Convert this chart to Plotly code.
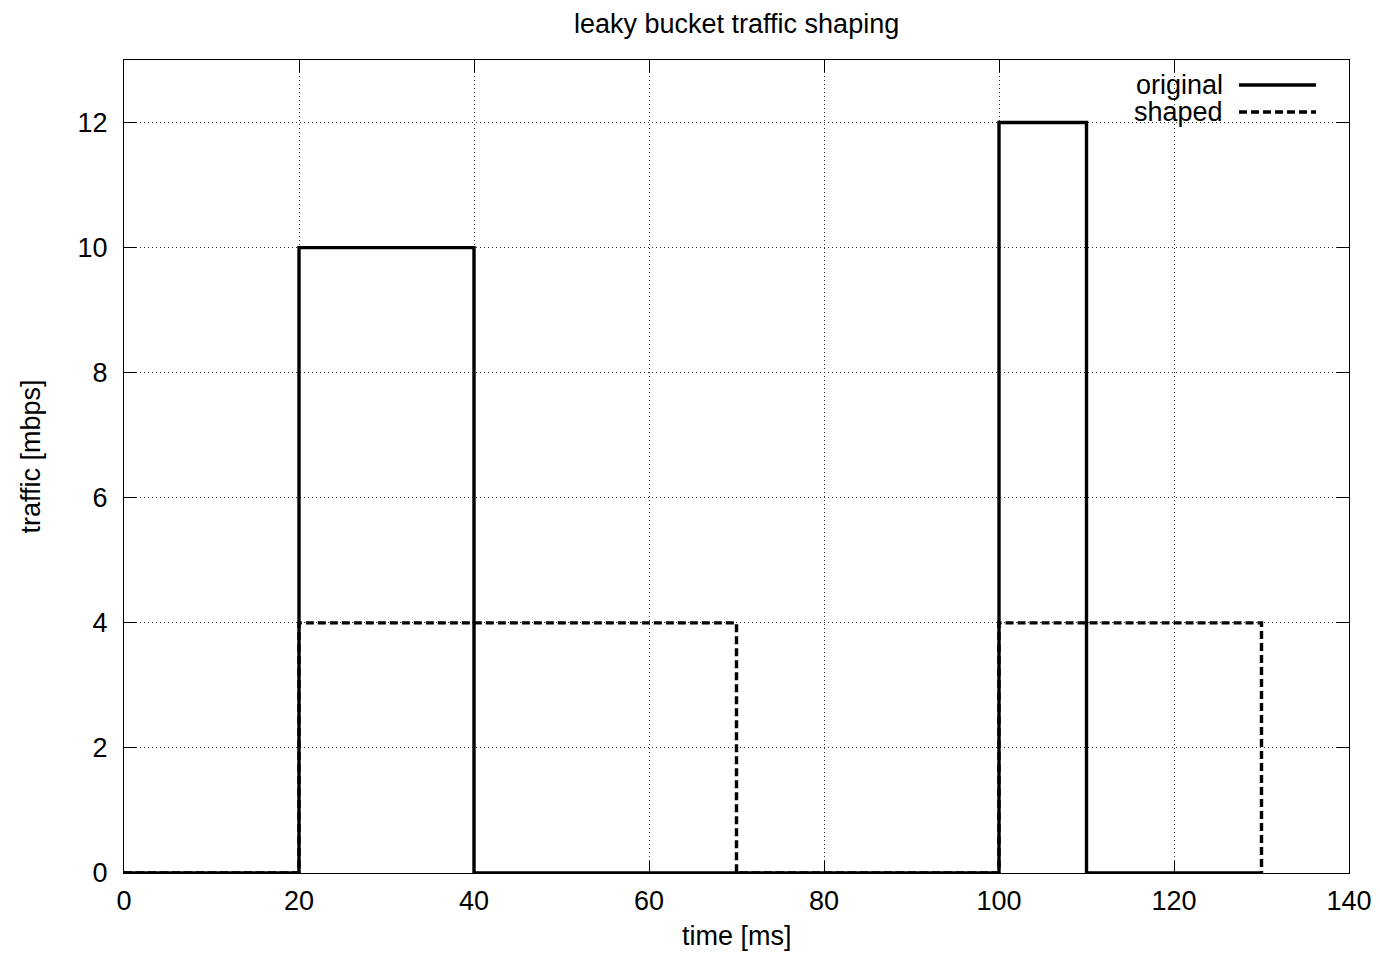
import plotly.graph_objects as go

# Data
orig_t = [0, 20, 40, 100, 110, 130]
orig_v = [0, 10, 0, 12, 0, 0]
shaped_t = [0, 20, 70, 100, 130]
shaped_v = [0, 4, 0, 4, 0]
x_ticks = [0, 20, 40, 60, 80, 100, 120, 140]
y_ticks = [0, 2, 4, 6, 8, 10, 12]

FONT = "Liberation Sans, Arial, Helvetica, sans-serif"
FS = 27
DASH = "8px,4px"

fig = go.Figure()
fig.add_trace(go.Scatter(x=orig_t, y=orig_v, mode="lines", line_shape="hv",
                         line=dict(color="black", width=3.4), name="original",
                         showlegend=False))
fig.add_trace(go.Scatter(x=shaped_t, y=shaped_v, mode="lines", line_shape="hv",
                         line=dict(color="black", width=3.4, dash=DASH), name="shaped",
                         showlegend=False))

axis_common = dict(showline=True, linecolor="black", linewidth=1.3, mirror="ticks",
                   ticks="inside", ticklen=12, tickcolor="black", tickwidth=1.3,
                   showgrid=True, gridcolor="#333", gridwidth=1, griddash="1px,3px",
                   zeroline=False, automargin=False,
                   tickfont=dict(size=FS, color="black", family=FONT))

fig.update_xaxes(range=[0, 140], tickvals=x_ticks, ticklabelstandoff=3, **axis_common)
fig.update_yaxes(range=[0, 13], tickvals=y_ticks, ticklabelstandoff=10, **axis_common)

# Title (centred over the plot area, gnuplot-style)
fig.add_annotation(xref="paper", yref="paper", x=0.5, y=1, yshift=36,
                   text="leaky bucket traffic shaping",
                   showarrow=False, xanchor="center", yanchor="middle", borderpad=0,
                   font=dict(size=FS, color="black", family=FONT))

# Axis titles
fig.add_annotation(xref="paper", yref="paper", x=0.5, y=0, yshift=-80, text="time [ms]",
                   showarrow=False, xanchor="center", yanchor="bottom",
                   font=dict(size=FS, color="black", family=FONT))
fig.add_annotation(xref="paper", yref="paper", x=0, y=0.5, xshift=-94, yshift=10,
                   text="traffic [mbps]", textangle=-90,
                   showarrow=False, xanchor="center", yanchor="middle",
                   font=dict(size=FS, color="black", family=FONT))

# Legend drawn gnuplot-style (text right-aligned, sample to the right)
legend_items = [("original", "solid", 0.9692), ("shaped", DASH, 0.936)]
for label, dash, yy in legend_items:
    fig.add_annotation(xref="paper", yref="paper", x=0.8988, y=yy, text=label,
                       showarrow=False, xanchor="right", yanchor="middle",
                       font=dict(size=FS, color="black", family=FONT))
    fig.add_shape(type="line", xref="paper", yref="paper", x0=0.9102, x1=0.9731,
                  y0=yy, y1=yy, line=dict(color="black", width=3.4, dash=dash))

fig.update_layout(
    width=1372, height=946,
    margin=dict(l=116, r=31, t=52, b=81),
    plot_bgcolor="white", paper_bgcolor="white",
    font=dict(family=FONT, color="black"),
)

fig.write_html("out.html")
